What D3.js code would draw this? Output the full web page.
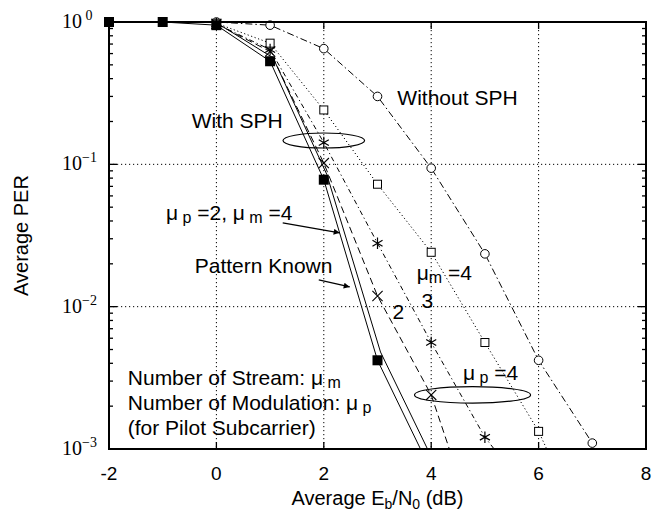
<!DOCTYPE html>
<html>
<head>
<meta charset="utf-8">
<script src="https://cdn.jsdelivr.net/npm/d3@7"></script>
<style>
  body { margin: 0; background: #fff; }
  text { font-family: "Liberation Sans", Arial, sans-serif; fill: #000; }
  .serif { font-family: "Liberation Serif", "Times New Roman", serif; }
</style>
</head>
<body>
<div id="chart"></div>
<script>
// PER vs Eb/N0 curves
const patternKnownX = [-2, -1, 0, 1, 2, 3, 4];
const patternKnownY = [1, 1, 0.95, 0.53, 0.078, 0.0042, 0.0007];

const mp2X = [0, 1, 2, 3, 4];
const mp2Y = [0.96, 0.56, 0.085, 0.0048, 0.0008];

const m2X = [0, 1, 2, 3, 4, 5];
const m2Y = [0.97, 0.62, 0.102, 0.0119, 0.0024, 0.00018];

const m3X = [0, 1, 2, 3, 4, 5, 6];
const m3Y = [0.97, 0.64, 0.142, 0.0279, 0.0056, 0.00121, 0.0004];

const m4X = [0, 1, 2, 3, 4, 5, 6, 7];
const m4Y = [0.98, 0.71, 0.241, 0.0725, 0.0241, 0.0056, 0.00133, 0.0002];

const noSphX = [0, 1, 2, 3, 4, 5, 6, 7];
const noSphY = [1.0, 0.95, 0.65, 0.30, 0.094, 0.0235, 0.0042, 0.0011];

const xTicks = [-2, 0, 2, 4, 6, 8];
const yDecades = [1e-3, 1e-2, 1e-1, 1];
const yDecadeLabels = [["10", "\u22123"], ["10", "\u22122"], ["10", "\u22121"], ["10", " 0"]];

(function () {
    const W = 653, H = 515;
    const svg = d3.select("#chart").append("svg")
        .attr("width", W).attr("height", H);

    const x = d3.scaleLinear().domain([-2, 8]).range([109, 646]);
    const y = d3.scaleLog().domain([1e-3, 1]).range([449, 22]);

    const zip = (xs, ys) => xs.map((v, i) => ({ x: v, y: ys[i] }));

    svg.append("defs").append("clipPath").attr("id", "plotclip")
        .append("rect")
        .attr("x", x(-2)).attr("y", y(1) - 6)
        .attr("width", x(8) - x(-2)).attr("height", y(1e-3) - y(1) + 6);

    // grid
    const grid = svg.append("g").attr("stroke", "#000").attr("stroke-width", 1)
        .attr("stroke-dasharray", "1.2,2.8");
    [0, 2, 4, 6].forEach(v => grid.append("line")
        .attr("x1", x(v)).attr("x2", x(v)).attr("y1", y(1)).attr("y2", y(1e-3)));
    [0.1, 0.01].forEach(v => grid.append("line")
        .attr("x1", x(-2)).attr("x2", x(8)).attr("y1", y(v)).attr("y2", y(v)));

    // ticks (inward) on all four sides
    const ticks = svg.append("g").attr("stroke", "#000").attr("stroke-width", 1.3);
    xTicks.forEach(v => {
        ticks.append("line").attr("x1", x(v)).attr("x2", x(v)).attr("y1", y(1e-3)).attr("y2", y(1e-3) - 7);
        ticks.append("line").attr("x1", x(v)).attr("x2", x(v)).attr("y1", y(1)).attr("y2", y(1) + 7);
    });
    yDecades.forEach((d, i) => {
        ticks.append("line").attr("x1", x(-2)).attr("x2", x(-2) + 8).attr("y1", y(d)).attr("y2", y(d));
        ticks.append("line").attr("x1", x(8)).attr("x2", x(8) - 8).attr("y1", y(d)).attr("y2", y(d));
        if (i < yDecades.length - 1) {
            for (let k = 2; k <= 9; k++) {
                const v = d * k;
                ticks.append("line").attr("x1", x(-2)).attr("x2", x(-2) + 4).attr("y1", y(v)).attr("y2", y(v));
                ticks.append("line").attr("x1", x(8)).attr("x2", x(8) - 4).attr("y1", y(v)).attr("y2", y(v));
            }
        }
    });

    // x tick labels
    svg.append("g").selectAll("text").data(xTicks).enter().append("text")
        .attr("x", d => x(d)).attr("y", y(1e-3) + 31)
        .attr("text-anchor", "middle").attr("font-size", "19px")
        .text(d => d);

    // y tick labels 10^n
    yDecades.forEach((d, i) => {
        const t = svg.append("text").attr("class", "serif")
            .attr("x", 62).attr("y", y(d) + 6).attr("font-size", "20px");
        t.append("tspan").text(yDecadeLabels[i][0]);
        t.append("tspan").attr("dy", -8).attr("font-size", "14px").text(yDecadeLabels[i][1]);
    });

    // axis titles
    const xl = svg.append("text").attr("x", (x(-2) + x(8)) / 2).attr("y", 505)
        .attr("text-anchor", "middle").attr("font-size", "20px");
    xl.append("tspan").text("Average E");
    xl.append("tspan").attr("dy", 4).attr("font-size", "14px").text("b");
    xl.append("tspan").attr("dy", -4).text("/N");
    xl.append("tspan").attr("dy", 4).attr("font-size", "14px").text("0");
    xl.append("tspan").attr("dy", -4).text(" (dB)");

    svg.append("text")
        .attr("transform", "translate(28," + ((y(1) + y(1e-3)) / 2) + ") rotate(-90)")
        .attr("text-anchor", "middle").attr("font-size", "20px")
        .text("Average PER");

    // curves
    const line = d3.line().x(d => x(d.x)).y(d => y(d.y));
    const curves = svg.append("g").attr("clip-path", "url(#plotclip)")
        .attr("fill", "none").attr("stroke", "#000").attr("stroke-width", 1);

    const series = [
        { data: zip(noSphX, noSphY), dash: "7,3,1.5,3" },
        { data: zip(m4X, m4Y), dash: "1.2,2.5" },
        { data: zip(m3X, m3Y), dash: "5,3,1.2,3" },
        { data: zip(m2X, m2Y), dash: "7,4" },
        { data: zip(mp2X, mp2Y), dash: null, shift: 3 },
        { data: zip(patternKnownX, patternKnownY), dash: null }
    ];
    series.forEach(s => {
        curves.append("path").datum(s.data)
            .attr("d", line)
            .attr("transform", s.shift ? "translate(" + s.shift + ",0)" : null)
            .attr("stroke-dasharray", s.dash);
    });

    // markers
    const mk = svg.append("g").attr("stroke", "#000").attr("stroke-width", 1).attr("fill", "none");
    const inPlot = d => d.y >= 1e-3;

    mk.selectAll("circle.ns").data(zip(noSphX, noSphY).filter(inPlot)).enter().append("circle")
        .attr("cx", d => x(d.x)).attr("cy", d => y(d.y)).attr("r", 4.3).attr("fill", "#fff");

    mk.selectAll("rect.m4").data(zip(m4X, m4Y).filter(inPlot)).enter().append("rect")
        .attr("x", d => x(d.x) - 4).attr("y", d => y(d.y) - 4)
        .attr("width", 8).attr("height", 8).attr("fill", "#fff");

    const star = d3.symbol().type(d3.symbolAsterisk).size(95);
    mk.selectAll("path.m3").data(zip(m3X, m3Y).filter(inPlot)).enter().append("path")
        .attr("transform", d => "translate(" + x(d.x) + "," + y(d.y) + ")")
        .attr("d", star).attr("stroke-width", 1.2);

    const cross = d3.symbol().type(d3.symbolTimes).size(70);
    mk.selectAll("path.m2").data(zip(m2X, m2Y).filter(inPlot)).enter().append("path")
        .attr("transform", d => "translate(" + x(d.x) + "," + y(d.y) + ")")
        .attr("d", cross).attr("stroke-width", 1.1);

    svg.append("g").selectAll("rect").data(zip(patternKnownX, patternKnownY).filter(inPlot)).enter()
        .append("rect")
        .attr("x", d => x(d.x) - 5).attr("y", d => y(d.y) - 5)
        .attr("width", 10).attr("height", 10).attr("fill", "#000");

    // frame
    svg.append("rect")
        .attr("x", x(-2)).attr("y", y(1))
        .attr("width", x(8) - x(-2)).attr("height", y(1e-3) - y(1))
        .attr("fill", "none").attr("stroke", "#000").attr("stroke-width", 2);

    // annotations
    const ann = svg.append("g").attr("font-size", "21px");
    ann.append("text").attr("x", x(-0.46)).attr("y", y(0.18)).text("With SPH");
    ann.append("text").attr("x", x(3.37)).attr("y", y(0.261)).text("Without SPH");
    ann.append("text").attr("x", x(-0.404)).attr("y", y(0.01727)).text("Pattern Known");
    ann.append("text").attr("x", x(3.82)).attr("y", y(0.0098)).text("3");
    ann.append("text").attr("x", x(3.28)).attr("y", y(0.0082)).text("2");

    const muText = (xv, yv, parts) => {
        const t = ann.append("text").attr("x", x(xv)).attr("y", y(yv));
        parts.forEach(p => {
            if (p.sub) {
                t.append("tspan").attr("dy", 3).attr("font-size", "16px").text(p.sub);
                t.append("tspan").attr("dy", -3).text(p.after || "");
            } else {
                t.append("tspan").text(p.t);
            }
        });
    };
    muText(-0.94, 0.0407, [{ t: "\u03bc" }, { sub: " p", after: " =2, \u03bc" }, { sub: " m", after: " =4" }]);
    muText(3.73, 0.0154, [{ t: "\u03bc" }, { sub: "m", after: " =4" }]);
    muText(4.59, 0.00306, [{ t: "\u03bc" }, { sub: " p", after: " =4" }]);
    muText(-1.65, 0.00282, [{ t: "Number of Stream: \u03bc" }, { sub: " m" }]);
    muText(-1.65, 0.00188, [{ t: "Number of Modulation: \u03bc" }, { sub: " p" }]);
    ann.append("text").attr("x", x(-1.65)).attr("y", y(0.00126)).text("(for Pilot Subcarrier)");

    // ellipses
    const ell = svg.append("g").attr("fill", "none").attr("stroke", "#000").attr("stroke-width", 1.2);
    ell.append("ellipse").attr("cx", x(2.0)).attr("cy", y(0.147))
        .attr("rx", x(2.76) - x(2.0)).attr("ry", 7.5);
    ell.append("ellipse").attr("cx", x(4.77)).attr("cy", y(0.0024))
        .attr("rx", x(5.85) - x(4.77)).attr("ry", 8.3);

    // arrows
    svg.append("defs").append("marker").attr("id", "arr")
        .attr("viewBox", "0 0 10 10").attr("refX", 10).attr("refY", 5)
        .attr("markerWidth", 10).attr("markerHeight", 6).attr("orient", "auto")
        .attr("markerUnits", "userSpaceOnUse")
        .append("path").attr("d", "M0,0 L10,5 L0,10 z").attr("fill", "#000");
    const arrows = [
        [1.235, 0.0388, 2.296, 0.033],
        [1.906, 0.01542, 2.483, 0.01377]
    ];
    svg.append("g").selectAll("line").data(arrows).enter().append("line")
        .attr("x1", d => x(d[0])).attr("y1", d => y(d[1]))
        .attr("x2", d => x(d[2])).attr("y2", d => y(d[3]))
        .attr("stroke", "#000").attr("stroke-width", 1.2)
        .attr("marker-end", "url(#arr)");
})();
</script>
</body>
</html>
